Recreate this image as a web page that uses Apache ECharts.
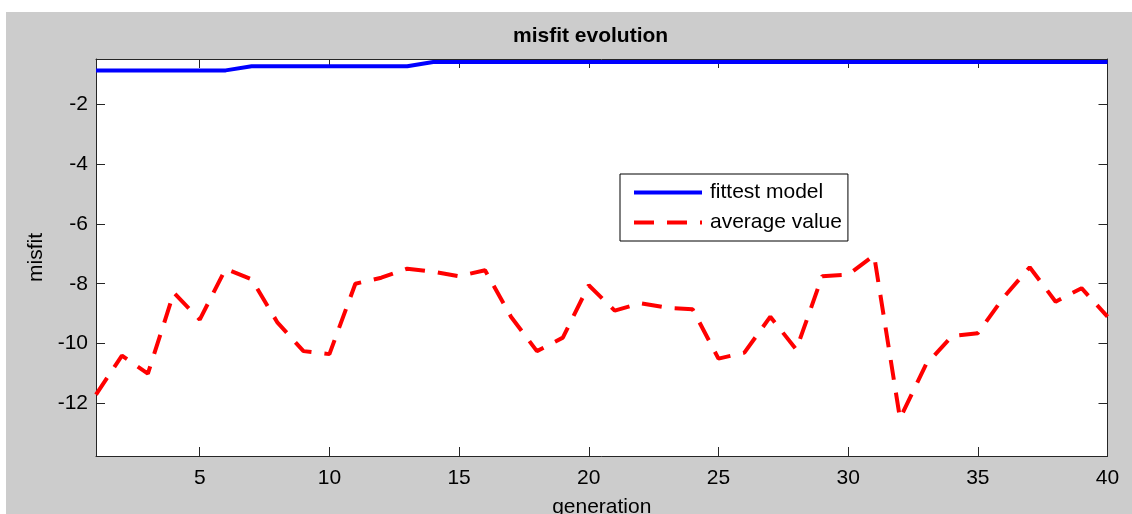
<!DOCTYPE html>
<html>
<head>
<meta charset="utf-8">
<script src="https://cdn.jsdelivr.net/npm/echarts@6/dist/echarts.min.js"></script>
<style>
  html, body { margin: 0; padding: 0; background: #ffffff; width: 1132px; height: 514px; overflow: hidden; }
  #chart { position: absolute; left: 6px; top: 12px; width: 1126px; height: 502px; background: #cccccc; }
</style>
</head>
<body>
<div id="chart"></div>
<script>
// ---- data ----
const generations = [1, 2, 3, 4, 5, 6, 7, 8, 9, 10,
                     11, 12, 13, 14, 15, 16, 17, 18, 19, 20,
                     21, 22, 23, 24, 25, 26, 27, 28, 29, 30,
                     31, 32, 33, 34, 35, 36, 37, 38, 39, 40];

const fittestModel = [-0.88, -0.88, -0.88, -0.88, -0.88, -0.88,
                      -0.74, -0.74, -0.74, -0.74, -0.74, -0.74, -0.74,
                      -0.6, -0.6, -0.6, -0.6, -0.6, -0.6, -0.6, -0.6, -0.6, -0.6,
                      -0.6, -0.6, -0.6, -0.6, -0.6, -0.6, -0.6, -0.6, -0.6, -0.6,
                      -0.6, -0.6, -0.6, -0.6, -0.6, -0.6, -0.6];

const averageValue = [-11.7, -10.4, -11.0, -8.3, -9.2, -7.5, -7.85, -9.3, -10.25, -10.35,
                      -8.0, -7.8, -7.5, -7.6, -7.75, -7.55, -9.1, -10.25, -9.8, -8.05,
                      -8.9, -8.65, -8.8, -8.85, -10.5, -10.3, -9.1, -10.2, -7.75, -7.7,
                      -7.05, -12.5, -10.7, -9.75, -9.65, -8.45, -7.45, -8.6, -8.15, -9.1];

const xRange = [1, 40];
const yRange = [-13.75, -0.5];
const xTickStep = 5;
const yTickStep = 2;

const titleText = 'misfit evolution';
const xName = 'generation';
const yName = 'misfit';
const seriesNames = ['fittest model', 'average value'];

// ---- chart ----
const FONT = '"Liberation Sans", Arial, Helvetica, sans-serif';
const axisColor = '#262626';

const chart = echarts.init(document.getElementById('chart'), null, { renderer: 'canvas' });

function pairs(xs, ys) { return xs.map((x, i) => [x, ys[i]]); }

const commonTick = { show: true, inside: true, length: 9, lineStyle: { color: axisColor, width: 1 } };

chart.setOption({
  animation: false,
  backgroundColor: '#cccccc',
  textStyle: { fontFamily: FONT },
  title: {
    text: titleText,
    left: 507,
    top: 14,
    padding: 0,
    textStyle: { fontFamily: FONT, fontSize: 21, fontWeight: 'bold', color: '#000' }
  },
  grid: {
    left: 90, top: 47, width: 1011.5, height: 397,
    show: true, backgroundColor: '#ffffff', borderWidth: 0,
    containLabel: false,
    outerBoundsMode: 'none'
  },
  legend: {
    orient: 'vertical',
    left: 614, top: 162,
    padding: [8, 6, 8, 12],
    itemGap: 9,
    itemWidth: 68,
    itemHeight: 14,
    backgroundColor: '#ffffff',
    borderColor: '#000000',
    borderWidth: 1,
    borderRadius: 0,
    itemStyle: { opacity: 0 },
    lineStyle: { width: 4 },
    textStyle: { fontFamily: FONT, fontSize: 21, color: '#000', lineHeight: 21, padding: [0, 0, 0, 3] },
    data: seriesNames
  },
  xAxis: [
    {
      type: 'value', position: 'bottom',
      min: xRange[0], max: xRange[1], splitNumber: 8,
      name: xName, nameLocation: 'middle', nameGap: 41,
      nameTextStyle: { fontFamily: FONT, fontSize: 21, color: '#000' },
      axisLine: { show: true, onZero: false, lineStyle: { color: axisColor, width: 1 } },
      axisTick: commonTick,
      splitLine: { show: false },
      axisLabel: {
        margin: 12, fontFamily: FONT, fontSize: 21, color: '#000',
        formatter: v => (Math.abs(v % xTickStep) < 1e-9 ? String(v) : '')
      }
    },
    {
      type: 'value', position: 'top',
      min: xRange[0], max: xRange[1], splitNumber: 8,
      axisLine: { show: true, onZero: false, lineStyle: { color: axisColor, width: 1 } },
      axisTick: commonTick,
      splitLine: { show: false },
      axisLabel: { show: false }
    }
  ],
  yAxis: [
    {
      type: 'value', position: 'left',
      min: yRange[0], max: yRange[1], splitNumber: 7,
      name: yName, nameLocation: 'middle', nameGap: 45,
      nameTextStyle: { fontFamily: FONT, fontSize: 21, color: '#000' },
      axisLine: { show: true, onZero: false, lineStyle: { color: axisColor, width: 1 } },
      axisTick: commonTick,
      splitLine: { show: false },
      axisLabel: {
        margin: 8, fontFamily: FONT, fontSize: 21, color: '#000',
        formatter: v => (Math.abs(v % yTickStep) < 1e-9 ? String(v) : '')
      }
    },
    {
      type: 'value', position: 'right',
      min: yRange[0], max: yRange[1], splitNumber: 7,
      axisLine: { show: true, onZero: false, lineStyle: { color: axisColor, width: 1 } },
      axisTick: commonTick,
      splitLine: { show: false },
      axisLabel: { show: false }
    }
  ],
  series: [
    {
      name: seriesNames[0], type: 'line', xAxisIndex: 0, yAxisIndex: 0,
      data: pairs(generations, fittestModel),
      symbol: 'none', showSymbol: false,
      lineStyle: { color: '#0000ff', width: 4, type: 'solid' },
      itemStyle: { color: '#0000ff' },
      z: 3
    },
    {
      name: seriesNames[1], type: 'line', xAxisIndex: 0, yAxisIndex: 0,
      data: pairs(generations, averageValue),
      symbol: 'none', showSymbol: false,
      lineStyle: { color: '#ff0000', width: 4, type: [20, 13] },
      itemStyle: { color: '#ff0000' },
      z: 2
    }
  ]
});
</script>
</body>
</html>
